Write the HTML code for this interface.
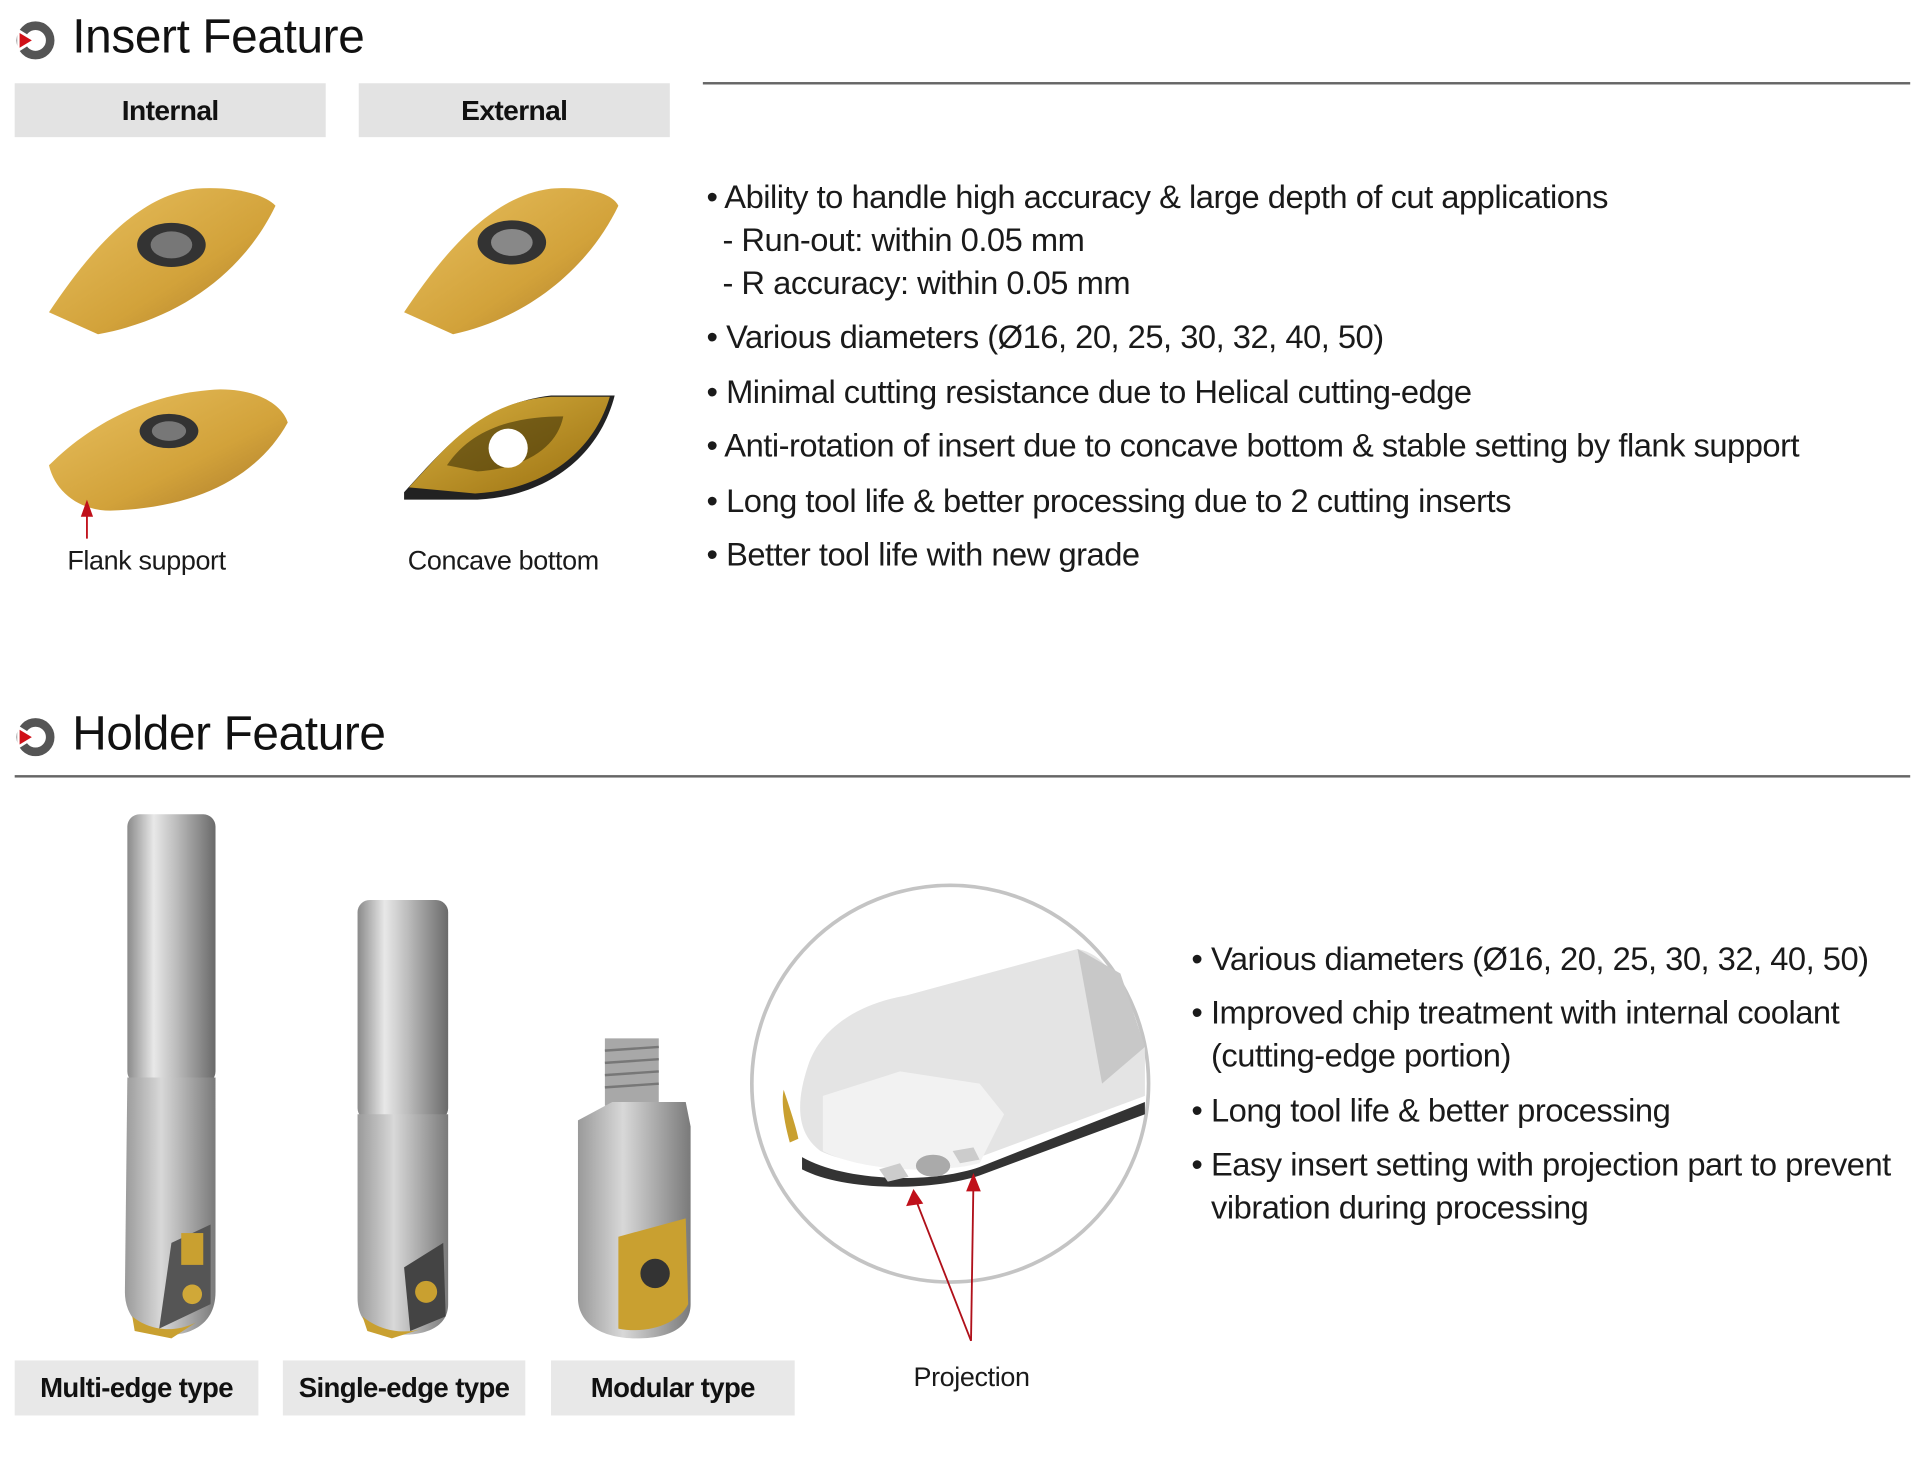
<!DOCTYPE html>
<html><head><meta charset="utf-8"><style>
html,body{margin:0;padding:0;background:#fff;}
body{width:1920px;height:1467px;overflow:hidden;position:relative;font-family:"Liberation Sans",Arial,sans-serif;color:#111;}
#w{position:absolute;left:0;top:0;width:1568px;height:1198px;transform:scale(1.22449);transform-origin:0 0;}
.a{position:absolute;white-space:nowrap;}
.t{font-size:39px;letter-spacing:-0.3px;}
.tab{position:absolute;background:#e3e3e3;font-weight:bold;font-size:23px;text-align:center;letter-spacing:-0.5px;}
.b{font-size:26.7px;letter-spacing:-0.4px;color:#1a1a1a;}
.lbl{font-size:22px;color:#1a1a1a;letter-spacing:-0.3px;}
.hr{position:absolute;height:1.5px;background:#666;}
</style></head><body><div id="w">

<svg class="a" style="left:12px;top:17px" width="34" height="32" viewBox="0 0 34 32">
<circle cx="17" cy="16" r="12" fill="none" stroke="#555" stroke-width="7"/>
<path d="M2 6 L18 16 L2 26 Z" fill="#fff"/>
<path d="M4 10 L14 16 L4 22 Z" fill="#d01018"/>
</svg>
<div class="a t" style="left:59px;top:9px">Insert Feature</div>
<div class="hr" style="left:574px;top:67px;width:986px"></div>
<div class="tab" style="left:12px;top:68px;width:254px;height:44px;line-height:44px">Internal</div>
<div class="tab" style="left:293px;top:68px;width:254px;height:44px;line-height:44px">External</div>

<svg class="a" style="left:30px;top:140px" width="520" height="300" viewBox="0 0 520 300">
<defs>
<linearGradient id="g1" x1="0" y1="0" x2="1" y2="1"><stop offset="0" stop-color="#e8c060"/><stop offset="0.6" stop-color="#d2a23a"/><stop offset="1" stop-color="#a8782a"/></linearGradient>
<linearGradient id="g2" x1="0" y1="0" x2="1" y2="1"><stop offset="0" stop-color="#d8b040"/><stop offset="1" stop-color="#9a7010"/></linearGradient>
</defs>
<path d="M10 115 C40 70 80 20 130 14 C160 12 185 18 195 28 C170 80 120 120 50 133 Z" fill="url(#g1)"/>
<ellipse cx="110" cy="60" rx="28" ry="18" fill="#333"/><ellipse cx="110" cy="60" rx="17" ry="11" fill="#777"/>
<path d="M300 115 C330 70 370 20 420 14 C450 12 470 18 475 28 C450 80 400 120 340 133 Z" fill="url(#g1)"/>
<ellipse cx="388" cy="58" rx="28" ry="18" fill="#333"/><ellipse cx="388" cy="58" rx="17" ry="11" fill="#888"/>
<path d="M10 240 C50 200 100 180 150 178 C180 178 200 190 205 205 C180 250 130 275 60 277 C35 277 15 262 10 240 Z" fill="url(#g1)"/>
<ellipse cx="108" cy="212" rx="24" ry="14" fill="#333"/><ellipse cx="108" cy="212" rx="14" ry="8" fill="#777"/>
<path d="M300 262 C330 230 360 190 420 183 L472 183 C460 230 420 265 360 268 L300 268 Z" fill="#222"/>
<path d="M304 258 C334 226 362 188 420 184 L468 184 C455 228 416 260 358 263 Z" fill="url(#g2)"/>
<path d="M335 240 C355 210 390 200 430 200 C425 225 400 242 360 245 Z" fill="#2a2200" opacity="0.5"/>
<circle cx="385" cy="226" r="16" fill="#fff"/>
<line x1="41" y1="300" x2="41" y2="275" stroke="#c0101a" stroke-width="1.5"/>
<path d="M36 282 L41 268 L46 282 Z" fill="#c0101a"/>
</svg>
<div class="a lbl" style="left:55px;top:445px">Flank support</div>
<div class="a lbl" style="left:333px;top:445px">Concave bottom</div>

<div class="a b" style="left:577px;top:146px">• Ability to handle high accuracy &amp; large depth of cut applications</div>
<div class="a b" style="left:590px;top:181px">- Run-out: within 0.05 mm</div>
<div class="a b" style="left:590px;top:216px">- R accuracy: within 0.05 mm</div>
<div class="a b" style="left:577px;top:260px">• Various diameters (Ø16, 20, 25, 30, 32, 40, 50)</div>
<div class="a b" style="left:577px;top:305px">• Minimal cutting resistance due to Helical cutting-edge</div>
<div class="a b" style="left:577px;top:349px">• Anti-rotation of insert due to concave bottom &amp; stable setting by flank support</div>
<div class="a b" style="left:577px;top:394px">• Long tool life &amp; better processing due to 2 cutting inserts</div>
<div class="a b" style="left:577px;top:438px">• Better tool life with new grade</div>

<svg class="a" style="left:12px;top:586px" width="34" height="32" viewBox="0 0 34 32">
<circle cx="17" cy="16" r="12" fill="none" stroke="#555" stroke-width="7"/>
<path d="M2 6 L18 16 L2 26 Z" fill="#fff"/>
<path d="M4 10 L14 16 L4 22 Z" fill="#d01018"/>
</svg>
<div class="a t" style="left:59px;top:578px">Holder Feature</div>
<div class="hr" style="left:12px;top:633px;width:1548px"></div>

<svg class="a" style="left:0;top:655px" width="960" height="450" viewBox="0 0 960 450">
<defs>
<linearGradient id="cy" x1="0" x2="1"><stop offset="0" stop-color="#8a8a8a"/><stop offset="0.3" stop-color="#e8e8e8"/><stop offset="0.55" stop-color="#bdbdbd"/><stop offset="1" stop-color="#6a6a6a"/></linearGradient>
<linearGradient id="cy2" x1="0" x2="1"><stop offset="0" stop-color="#9a9a9a"/><stop offset="0.4" stop-color="#d8d8d8"/><stop offset="1" stop-color="#7a7a7a"/></linearGradient>
</defs>
<rect x="104" y="10" width="72" height="220" rx="10" fill="url(#cy)"/>
<path d="M104 225 L176 225 L176 400 C176 430 150 435 140 435 C115 435 102 420 102 400 Z" fill="url(#cy2)"/>
<path d="M140 360 L172 345 L172 410 L130 430 Z" fill="#555"/>
<rect x="148" y="352" width="18" height="26" fill="#c9a030"/>
<path d="M108 420 C120 430 140 435 160 425 L140 438 L110 432 Z" fill="#c9a030"/>
<circle cx="157" cy="402" r="8" fill="#d0a838"/>
<rect x="292" y="80" width="74" height="180" rx="10" fill="url(#cy)"/>
<path d="M292 255 L366 255 L366 410 C366 430 345 435 330 435 C305 435 292 425 292 405 Z" fill="url(#cy2)"/>
<path d="M330 380 L362 360 L364 420 L335 432 Z" fill="#444"/>
<circle cx="348" cy="400" r="9" fill="#c9a030"/>
<path d="M296 420 C310 432 330 435 345 430 L320 438 L300 432 Z" fill="#c9a030"/>
<rect x="494" y="193" width="44" height="55" fill="#a8a8a8"/>
<g stroke="#777" stroke-width="2"><line x1="494" y1="203" x2="538" y2="200"/><line x1="494" y1="213" x2="538" y2="210"/><line x1="494" y1="223" x2="538" y2="220"/><line x1="494" y1="233" x2="538" y2="230"/></g>
<path d="M472 260 L500 245 L560 245 L564 265 L564 410 C564 430 545 438 520 438 C490 438 472 425 472 405 Z" fill="url(#cy2)"/>
<path d="M505 355 L560 340 L562 410 C555 425 530 435 505 430 Z" fill="#c9a030"/>
<circle cx="535" cy="385" r="12" fill="#333"/>
<circle cx="776" cy="230" r="162" fill="#fff" stroke="#c4c4c4" stroke-width="3"/>
<path d="M660 215 C670 185 700 165 740 158 L880 120 C905 125 920 150 915 200 L935 200 L935 240 L800 290 C770 300 700 300 670 285 C650 270 650 245 660 215 Z" fill="#e4e4e4"/>
<path d="M880 120 L915 140 L935 200 L900 230 Z" fill="#c8c8c8"/>
<path d="M672 240 L735 220 L800 230 L820 255 L800 295 C760 305 700 300 672 285 Z" fill="#f2f2f2"/>
<path d="M655 290 C690 310 760 312 800 298 L935 245 L935 255 L800 305 C760 318 690 318 655 300 Z" fill="#333"/>
<path d="M640 235 C645 250 650 265 652 275 L645 278 C640 260 638 245 640 235 Z" fill="#c9a030"/>
<ellipse cx="762" cy="297" rx="14" ry="9" fill="#aaa"/>
<path d="M718 300 L735 295 L742 306 L725 310 Z" fill="#ccc"/>
<path d="M778 285 L795 282 L800 292 L784 295 Z" fill="#ccc"/>
<g stroke="#b0101a" stroke-width="1.5"><line x1="793" y1="440" x2="748" y2="325"/><line x1="793" y1="440" x2="795" y2="308"/></g>
<path d="M740 330 L746 316 L754 328 Z" fill="#c0101a"/>
<path d="M789 318 L795 303 L801 318 Z" fill="#c0101a"/>
</svg>

<div class="tab" style="left:12px;top:1111px;width:199px;height:45px;line-height:45px;background:#e8e8e8;font-size:22.5px">Multi-edge type</div>
<div class="tab" style="left:231px;top:1111px;width:198px;height:45px;line-height:45px;background:#e8e8e8;font-size:22.5px">Single-edge type</div>
<div class="tab" style="left:450px;top:1111px;width:199px;height:45px;line-height:45px;background:#e8e8e8;font-size:22.5px">Modular type</div>
<div class="a lbl" style="left:746px;top:1112px">Projection</div>

<div class="a b" style="left:973px;top:768px">• Various diameters (Ø16, 20, 25, 30, 32, 40, 50)</div>
<div class="a b" style="left:973px;top:812px">• Improved chip treatment with internal coolant</div>
<div class="a b" style="left:989px;top:847px">(cutting-edge portion)</div>
<div class="a b" style="left:973px;top:892px">• Long tool life &amp; better processing</div>
<div class="a b" style="left:973px;top:936px">• Easy insert setting with projection part to prevent</div>
<div class="a b" style="left:989px;top:971px">vibration during processing</div>

</div></body></html>
